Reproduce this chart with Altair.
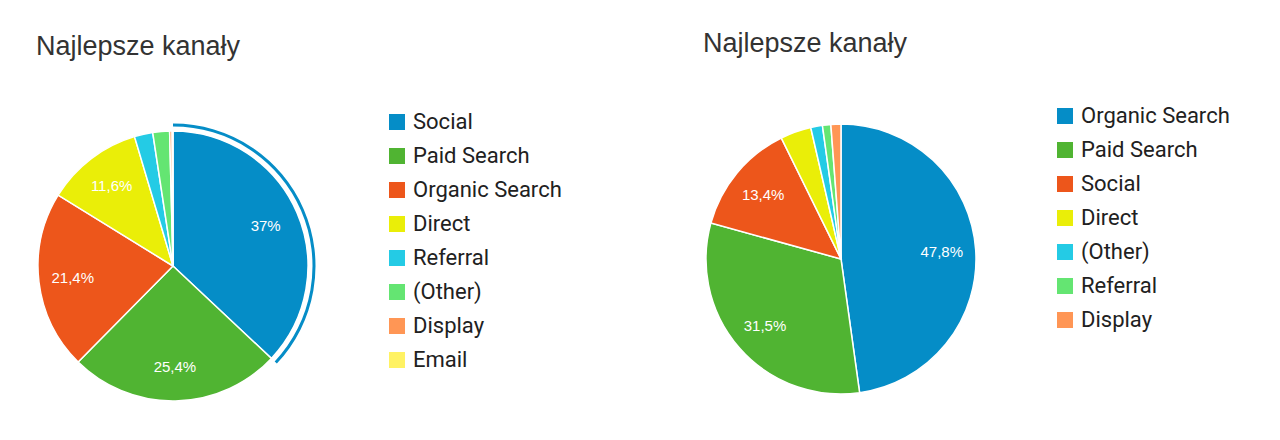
import altair as alt
import pandas as pd

# ---- data ----
title_text = "Najlepsze kanały"

left_channels = ["Social", "Paid Search", "Organic Search", "Direct", "Referral", "(Other)", "Display", "Email"]
left_values = [37.0, 25.4, 21.4, 11.6, 2.2, 2.0, 0.3, 0.1]

right_channels = ["Organic Search", "Paid Search", "Social", "Direct", "(Other)", "Referral", "Display"]
right_values = [47.8, 31.5, 13.4, 3.7, 1.4, 1.0, 1.2]

palette = ["#058DC7", "#50B432", "#ED561B", "#EAEE08", "#24CBE5", "#64E572", "#FF9655", "#FFF263"]

highlight_channel = "Social"  # hovered slice on the left chart


def make_df(channels, values):
    return pd.DataFrame({
        "channel": channels,
        "value": values,
        "order": list(range(len(channels))),
        "label": [f"{v:g}".replace(".", ",") + "%" for v in values],
    })


def pie_panel(channels, values, panel_height, title_offset, title_dx, legend_y, highlight=None):
    df = make_df(channels, values)
    total = float(sum(values))
    base = alt.Chart(df).transform_window(
        cum="sum(value)", sort=[alt.SortField("order")], frame=[None, 0]
    ).transform_calculate(
        start="datum.cum - datum.value",
        end="datum.cum",
        mid="datum.cum - datum.value / 2",
    )
    theta_scale = alt.Scale(domain=[0, total])
    color_scale = alt.Scale(domain=channels, range=palette[: len(channels)])

    arcs = base.mark_arc(outerRadius=135, stroke="white", strokeWidth=1.5).encode(
        theta=alt.Theta("start:Q", scale=theta_scale),
        theta2="end:Q",
        color=alt.Color(
            "channel:N",
            scale=color_scale,
            sort=channels,
            legend=alt.Legend(
                title=None,
                orient="none",
                legendX=358,
                legendY=legend_y,
                symbolType="square",
                symbolSize=256,
                symbolStrokeWidth=0,
                labelFont="Roboto",
                labelFontSize=22,
                labelColor="#212121",
                labelOffset=5,
                rowPadding=12,
                padding=0,
            ),
        ),
        order=alt.Order("order:Q"),
    )

    labels = base.transform_filter("datum.value >= 5").mark_text(
        radius=101, color="white", font="Liberation Sans", fontSize=15,
        align="center", baseline="middle",
    ).encode(
        theta=alt.Theta("mid:Q", scale=theta_scale),
        text="label:N",
    )

    layers = [arcs, labels]
    if highlight is not None:
        ring = base.transform_filter(alt.datum.channel == highlight).mark_arc(
            outerRadius=142.5, innerRadius=139.5
        ).encode(
            theta=alt.Theta("start:Q", scale=theta_scale),
            theta2="end:Q",
            color=alt.Color("channel:N", scale=color_scale, legend=None),
        )
        layers.append(ring)

    return alt.layer(*layers).properties(
        width=290,
        height=panel_height,
        title=alt.TitleParams(
            text=title_text,
            anchor="start",
            frame="group",
            font="Liberation Sans",
            fontSize=27,
            fontWeight="normal",
            color="#333333",
            offset=title_offset,
            dx=title_dx,
        ),
    )


left = pie_panel(left_channels, left_values, 304, 50, 8, -3, highlight=highlight_channel)
right = pie_panel(right_channels, right_values, 290, 47, 7, -9)

chart = alt.hconcat(left, right, spacing=378, bounds="flush").resolve_scale(
    color="independent", theta="independent"
).configure_view(stroke=None).properties(
    padding={"left": 20, "top": 22, "right": 5, "bottom": 5},
    background="white",
)

chart.save("out.html", embed_options={"renderer": "svg", "actions": False})
